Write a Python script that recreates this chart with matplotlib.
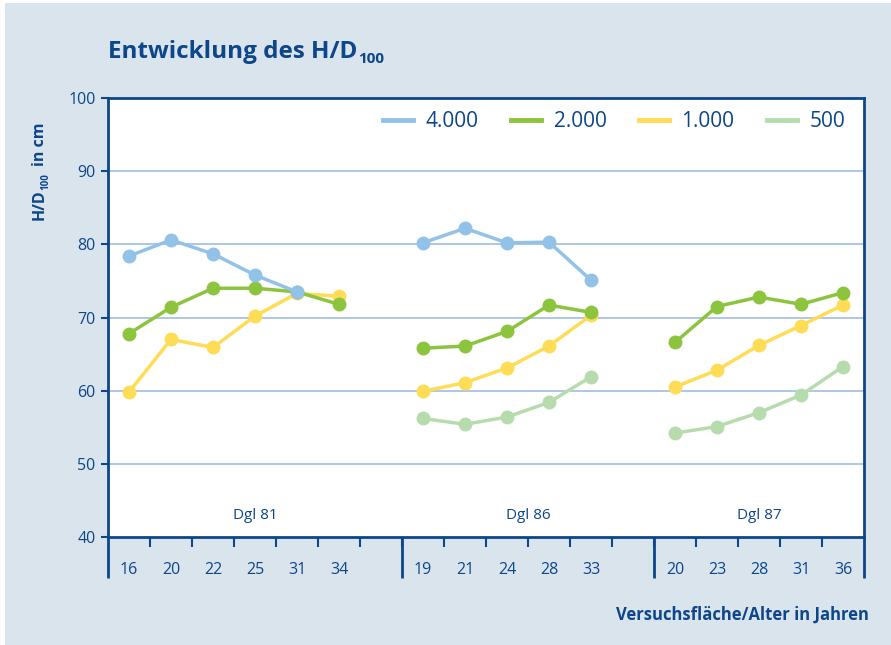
import matplotlib
matplotlib.use("Agg")
import matplotlib.pyplot as plt
from matplotlib.patches import Rectangle
from matplotlib.transforms import offset_copy

# groups (test plots) and ages per group
groups = ["Dgl 81", "Dgl 86", "Dgl 87"]
ages_81 = ["16", "20", "22", "25", "31", "34"]
ages_86 = ["19", "21", "24", "28", "33"]
ages_87 = ["20", "23", "28", "31", "36"]

# H/D100 values per stem count, one list per group (None = no value)
s4000_81 = [78.4, 80.6, 78.7, 75.8, 73.5, None]
s2000_81 = [67.8, 71.4, 74.0, 74.0, 73.5, 71.8]
s1000_81 = [59.8, 67.0, 65.9, 70.2, 73.3, 72.9]
s500_81 = [None, None, None, None, None, None]

s4000_86 = [80.2, 82.2, 80.2, 80.3, 75.1]
s2000_86 = [65.8, 66.1, 68.1, 71.7, 70.7]
s1000_86 = [59.9, 61.1, 63.1, 66.1, 70.3]
s500_86 = [56.2, 55.4, 56.4, 58.4, 61.9]

s4000_87 = [None, None, None, None, None]
s2000_87 = [66.6, 71.5, 72.8, 71.8, 73.4]
s1000_87 = [60.5, 62.8, 66.2, 68.9, 71.7]
s500_87 = [54.2, 55.1, 57.0, 59.4, 63.3]

series_names = ["4.000", "2.000", "1.000", "500"]

DARK = "#0d4689"
BG = "#dae4ed"
GRID = "#a9c3e3"
COLORS = ["#93c2e8", "#8cc43e", "#ffdc55", "#b6dcae"]

plt.rcParams["font.family"] = ["Open Sans", "DejaVu Sans"]

fig = plt.figure(figsize=(8.91, 6.45), dpi=100)
fig.patch.set_facecolor("white")
fig.patches.append(Rectangle((5 / 891, 0), 1, 1 - 3 / 645, transform=fig.transFigure,
                             facecolor=BG, edgecolor="none", zorder=-10))

ax = fig.add_axes([108 / 891, 108 / 645, 756 / 891, 439 / 645])
ax.set_facecolor("white")

# slot layout: each group gets one empty slot after its ages
all_ages = [ages_81, ages_86, ages_87]
all_data = [
    [s4000_81, s2000_81, s1000_81, s500_81],
    [s4000_86, s2000_86, s1000_86, s500_86],
    [s4000_87, s2000_87, s1000_87, s500_87],
]
starts = []
pos = 0
for ages in all_ages:
    starts.append(pos)
    pos += len(ages) + 1
n_slots = pos - 1

for yv in [50, 60, 70, 80, 90]:
    ax.axhline(yv, color=GRID, lw=1.3, zorder=1)

# where the group names sit (slot units inside each group)
label_offsets = [3.5, 3.0, 2.5]

centers = []
labels = []
for g, ages in enumerate(all_ages):
    xs = [starts[g] + i + 0.5 for i in range(len(ages))]
    centers += xs
    labels += ages
    for k, vals in enumerate(all_data[g]):
        px = [x for x, v in zip(xs, vals) if v is not None]
        py = [v for v in vals if v is not None]
        if px:
            ax.plot(px, py, color=COLORS[k], lw=2.5, marker="o", ms=9,
                    zorder=3 + (3 - k) * 0.1)
    ax.text(starts[g] + label_offsets[g], 41.9, groups[g], ha="center", va="bottom",
            fontsize=11, color=DARK)

ax.set_xlim(0, n_slots)
ax.set_ylim(40, 100)

# legend handles
for k, name in enumerate(series_names):
    ax.plot([], [], color=COLORS[k], lw=3.5, label=name)
leg = ax.legend(loc="upper right", ncol=4, frameon=False, fontsize=15,
                handlelength=1.45, columnspacing=1.55, handletextpad=0.6,
                bbox_to_anchor=(1.0, 1.012))
for t in leg.get_texts():
    t.set_color(DARK)

for side in ["left", "right", "top", "bottom"]:
    ax.spines[side].set_color(DARK)
    ax.spines[side].set_linewidth(2)

ax.set_yticks([40, 50, 60, 70, 80, 90, 100])
ax.tick_params(axis="y", colors=DARK, labelcolor=DARK, labelsize=11.5,
               direction="out", length=5, width=1.5, pad=4)

boundaries = [i for i in range(1, n_slots)]
ax.set_xticks(boundaries)
ax.set_xticklabels([])
ax.tick_params(axis="x", which="major", colors=DARK, direction="out", length=7, width=1.5)
ax.set_xticks(centers, minor=True)
ax.set_xticklabels(labels, minor=True)
ax.tick_params(axis="x", which="minor", length=0, labelsize=11.5, labelcolor=DARK, pad=18)

# vertical separators below the axis
sep = [0] + starts[1:] + [n_slots]
ax.vlines(sep, 34.4, 40, colors=DARK, lw=2, clip_on=False)

renderer = fig.canvas.get_renderer()

# title with subscript
t1 = fig.text(108 / 891, 1 - 58 / 645, "Entwicklung des H/D", fontsize=17.5,
              fontweight="bold", color=DARK, va="baseline", ha="left")
w1 = t1.get_window_extent(renderer).width
fig.text(108 / 891, 1 - 58 / 645, "100", fontsize=11, fontweight="bold", color=DARK,
         va="baseline", ha="left",
         transform=offset_copy(fig.transFigure, fig=fig, x=w1 + 1, y=-5, units="dots"))

# rotated y label with subscript (built bottom to top)
yl_x = 44 / 891
y0 = 1 - 220 / 645
rot = dict(fontweight="bold", color=DARK, rotation=90, va="baseline", ha="left",
           rotation_mode="anchor")
p1 = fig.text(yl_x, y0, "H/D", fontsize=11.5, **rot)
h1 = p1.get_window_extent(renderer).height
p2 = fig.text(yl_x, y0, "100", fontsize=7, **rot,
              transform=offset_copy(fig.transFigure, fig=fig, x=4, y=h1 - 1, units="dots"))
h2 = p2.get_window_extent(renderer).height
fig.text(yl_x, y0, "in cm", fontsize=11.5, **rot,
         transform=offset_copy(fig.transFigure, fig=fig, x=0, y=h1 + h2 + 6, units="dots"))

fig.text(869 / 891, 1 - 615 / 645, "Versuchsfläche/Alter in Jahren", fontsize=12,
         fontweight="bold", color=DARK, va="center", ha="right")

fig.savefig("out.png", dpi=100, facecolor=fig.get_facecolor())
